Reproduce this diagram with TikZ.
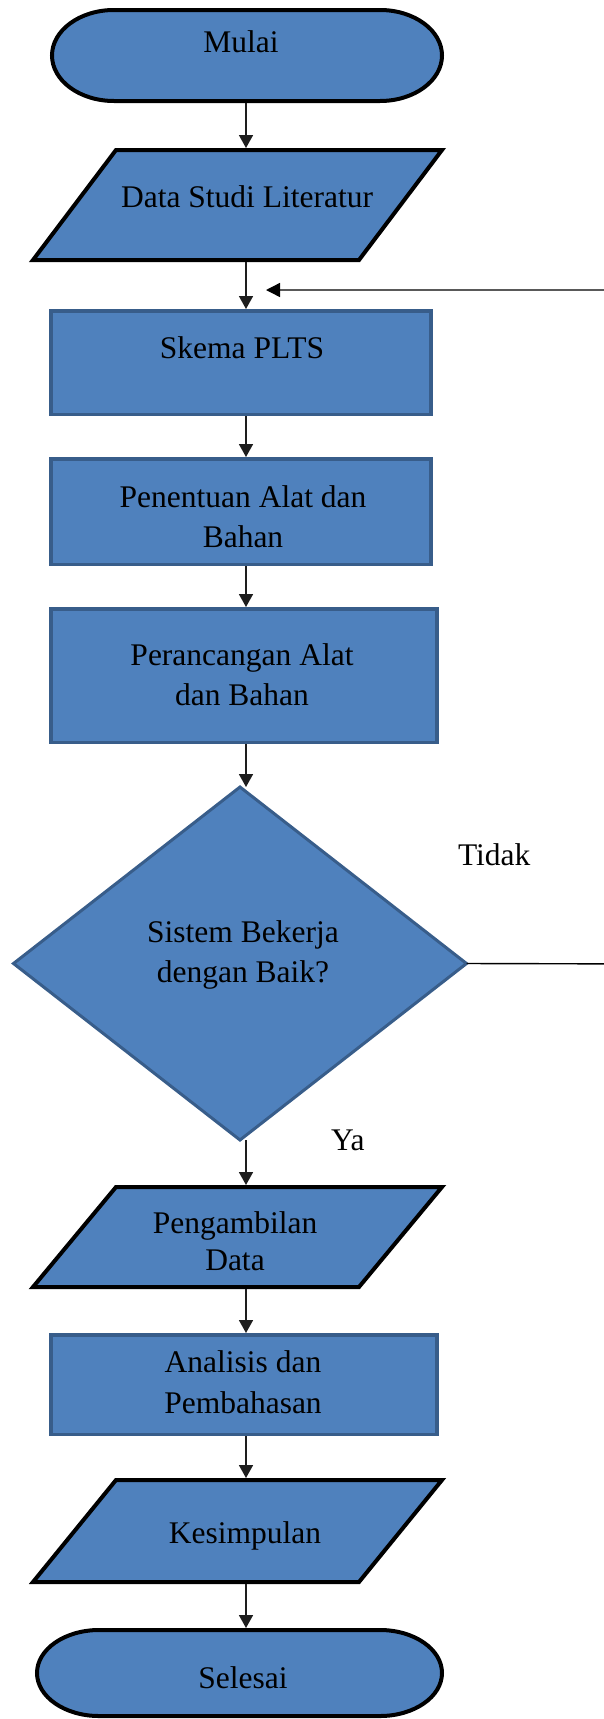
\documentclass[tikz,border=0pt]{standalone}
\usepackage{fontspec}
\setmainfont{Liberation Serif}
\usetikzlibrary{arrows.meta,shapes.geometric,calc}
\definecolor{fillblue}{HTML}{4F81BD}
\definecolor{edgeblue}{HTML}{385D8A}
\definecolor{arrowgray}{HTML}{1E1E1E}
\newcommand\drawterm[3]{%
  \filldraw[termline] ([xshift=#2]#1.north west) -- ([xshift=-#2]#1.north east)
    arc[start angle=90,end angle=-90,x radius=#2,y radius=#3]
    -- ([xshift=#2]#1.south west)
    arc[start angle=270,end angle=90,x radius=#2,y radius=#3] -- cycle;}
\newcommand\drawio[2]{%
  \filldraw[ioline] ([xshift=#2]#1.north west) -- (#1.north east)
    -- ([xshift=-#2]#1.south east) -- (#1.south west) -- cycle;}
\begin{document}
\begin{tikzpicture}[x=1pt,y=1pt,
  base/.style={inner sep=0pt,outer sep=0pt},
  frame/.style={base,rectangle,draw=none},
  box/.style={base,rectangle,draw=edgeblue,fill=fillblue,line width=3.5pt},
  dia/.style={base,diamond,draw=edgeblue,fill=fillblue,line width=3pt},
  termline/.style={draw=black,fill=fillblue,line width=4pt},
  ioline/.style={draw=black,fill=fillblue,line width=4pt},
  txt/.style={base,anchor=base,align=center,font=\fontsize{31.5}{39.5}\selectfont},
  arr/.style={draw=arrowgray,line width=1.7pt,-{Triangle[width=14pt,length=13pt]}},
  conn/.style={draw=black,line width=1.4pt}]
\useasboundingbox (0,0) rectangle (604,-1719);
\fill[white] (0,0) rectangle (604,-1719);
\coordinate (colx) at (246,0);
% shapes
\node[frame,minimum width=390pt,minimum height=91pt] (mulai) at (247,-55.5) {};
\drawterm{mulai}{62pt}{45.5pt}
\node[frame,minimum width=409pt,minimum height=110pt] (dsl) at (237.5,-205) {};
\drawio{dsl}{83pt}
\node[box,minimum width=380pt,minimum height=103.5pt] (skema) at (241,-362.5) {};
\node[box,minimum width=380pt,minimum height=105.5pt] (tentu) at (241,-511.5) {};
\node[box,minimum width=386pt,minimum height=133.5pt] (rancang) at (244,-675.5) {};
\node[dia,minimum width=453pt,minimum height=353pt] (dec) at (240,-963.5) {};
\node[frame,minimum width=409pt,minimum height=100pt] (ambil) at (237.5,-1237) {};
\drawio{ambil}{83pt}
\node[box,minimum width=386pt,minimum height=99.5pt] (analisis) at (244,-1384.5) {};
\node[frame,minimum width=409pt,minimum height=102pt] (simpul) at (237.5,-1531) {};
\drawio{simpul}{83pt}
\node[frame,minimum width=405pt,minimum height=86pt] (selesai) at (239.5,-1673) {};
\drawterm{selesai}{62pt}{43pt}
% texts (anchor base = baseline of the last line)
\node[txt] (mulai-t) at (241,-52) {Mulai};
\node[txt] (dsl-t) at (247,-207) {Data Studi Literatur};
\node[txt] (skema-t) at (242,-358) {Skema PLTS};
\node[txt] (tentu-t) at (243,-547) {Penentuan Alat dan\\Bahan};
\node[txt] (rancang-t) at (242,-705) {Perancangan Alat\\dan Bahan};
\node[txt] (dec-t) at (243,-982) {Sistem Bekerja\\dengan Baik?};
\node[txt,font=\fontsize{31.5}{36.5}\selectfont] (ambil-t) at (235,-1270) {Pengambilan\\Data};
\node[txt,font=\fontsize{31.5}{41}\selectfont] (analisis-t) at (243,-1413) {Analisis dan\\Pembahasan};
\node[txt] (simpul-t) at (245,-1543) {Kesimpulan};
\node[txt] (selesai-t) at (243,-1688) {Selesai};
\node[txt,anchor=base west] (tidak) at (458,-865) {Tidak};
\node[txt,anchor=base west] (ya) at (331,-1150) {Ya};
% connectors
\draw[arr] (mulai.south -| colx) ++(0,-2) -- ([yshift=2pt]dsl.north -| colx);
\draw[arr] ([yshift=-2pt]dsl.south -| colx) -- ([yshift=1.75pt]skema.north -| colx);
\draw[arr] ([yshift=-1.75pt]skema.south -| colx) -- ([yshift=1.75pt]tentu.north -| colx);
\draw[arr] ([yshift=-1.75pt]tentu.south -| colx) -- ([yshift=1.75pt]rancang.north -| colx);
\draw[arr] ([yshift=-1.75pt]rancang.south -| colx) -- (dec.north -| colx);
\draw[arr] (dec.south -| colx) -- ([yshift=2pt]ambil.north -| colx);
\draw[arr] ([yshift=-2pt]ambil.south -| colx) -- ([yshift=1.75pt]analisis.north -| colx);
\draw[arr] ([yshift=-1.75pt]analisis.south -| colx) -- ([yshift=2pt]simpul.north -| colx);
\draw[arr] ([yshift=-2pt]simpul.south -| colx) -- ([yshift=2pt]selesai.north -| colx);
\coordinate (fb) at (266,-290);
\draw[conn,-{Triangle[width=14pt,length=14pt]}] (dec.east) -- (660,-964) |- (fb);
\end{tikzpicture}
\end{document}
